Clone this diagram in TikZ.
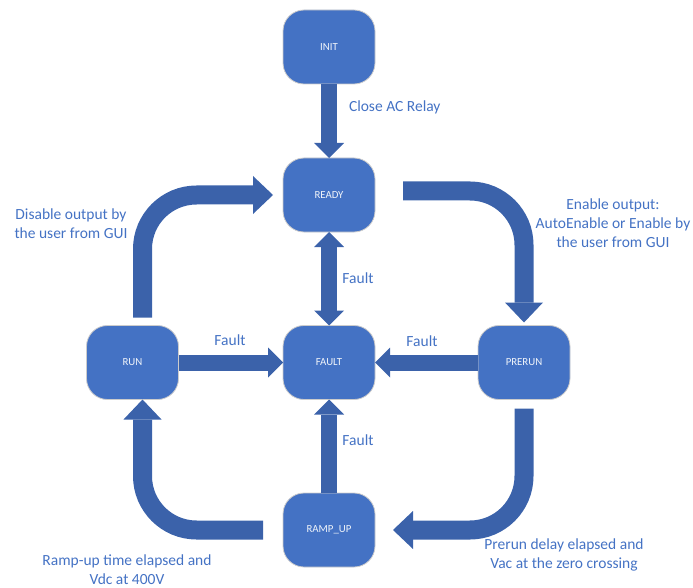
\documentclass[tikz,border=0pt]{standalone}
\usepackage{fontspec}
\setmainfont{Carlito}
\usetikzlibrary{arrows.meta}
\definecolor{nodeblue}{RGB}{68,114,196}
\definecolor{arrowblue}{RGB}{59,98,170}
\definecolor{labelblue}{RGB}{68,114,196}
\begin{document}
\begin{tikzpicture}[x=1pt,y=-1pt,inner sep=0pt,outer sep=0pt,
state/.style={draw=gray!40,line width=0.8pt,fill=nodeblue,rectangle,rounded corners=21pt,minimum width=92pt,minimum height=74pt,text=white!92!nodeblue,font=\fontsize{10.8}{12}\selectfont},
fatarrow/.style={draw=arrowblue,line width=16pt,line cap=butt,-{Triangle[width=30pt,length=15pt,line width=0pt]}},
bendarrow/.style={draw=arrowblue,line width=19pt,line cap=butt,rounded corners=54pt,-{Triangle[width=38pt,length=20pt,line width=0pt]}},
cond/.style={text=labelblue,align=center,font=\fontsize{15.5}{19}\selectfont}]
\useasboundingbox (0,0) rectangle (693,588);
\draw (329,47) node[state] (INIT) {INIT};
\draw (329,195) node[state] (READY) {READY};
\draw (329,362.5) node[state] (FAULT) {FAULT};
\draw (132.5,362.5) node[state] (RUN) {RUN};
\draw (524,362.5) node[state] (PRERUN) {PRERUN};
\draw (329,530) node[state] (RAMPUP) {RAMP\_UP};

\draw[fatarrow] (INIT.south) -- (READY.north);
\draw[fatarrow,{Triangle[width=30pt,length=15pt,line width=0pt]}-{Triangle[width=30pt,length=15pt,line width=0pt]}] (READY.south) -- (FAULT.north);
\draw[fatarrow] (RUN.east) -- (FAULT.west);
\draw[fatarrow] (PRERUN.west) -- (FAULT.east);
\draw[fatarrow] (RAMPUP.north) -- (FAULT.south);

\draw[bendarrow] ([xshift=28pt,yshift=4pt]READY.east) -| ([yshift=3pt]PRERUN.north);
\draw[bendarrow] ([yshift=-9pt]PRERUN.south) |- ([xshift=18pt]RAMPUP.east);
\draw[bendarrow] ([xshift=-20pt]RAMPUP.west) -| ([xshift=10pt]RUN.south);
\draw[bendarrow] ([xshift=10pt,yshift=8pt]RUN.north) |- ([xshift=-10pt]READY.west);

\node[cond,anchor=west] (closeac) at (349,107) {Close AC Relay};
\node[cond] (faultready) at (358,278) {Fault};
\node[cond] (faultrun) at (230,340) {Fault};
\node[cond] (faultprerun) at (422,341) {Fault};
\node[cond] (faultramp) at (358,440) {Fault};
\node[cond] (disable) at (71,223.5) {Disable output by\\the user from GUI};
\node[cond] (enable) at (613,223) {Enable output:\\AutoEnable or Enable by\\the user from GUI};
\node[cond] (rampdone) at (127,569.5) {Ramp-up time elapsed and\\Vdc at 400V};
\node[cond] (prerundone) at (564,554.5) {Prerun delay elapsed and\\Vac at the zero crossing};
\end{tikzpicture}
\end{document}
